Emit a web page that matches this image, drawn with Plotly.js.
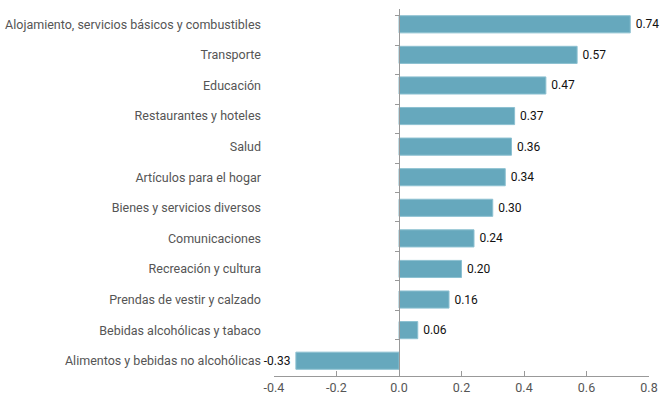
<!DOCTYPE html>
<html><head><meta charset="utf-8">
<script src="https://cdn.plot.ly/plotly-3.0.1.min.js"></script>
<style>html,body{margin:0;padding:0;background:#fff;}#chart{width:661px;height:401px;}</style>
</head><body><div id="chart"></div>
<script>
const categories = [
  "Alojamiento, servicios básicos y combustibles",
  "Transporte",
  "Educación",
  "Restaurantes y hoteles",
  "Salud",
  "Artículos para el hogar",
  "Bienes y servicios diversos",
  "Comunicaciones",
  "Recreación y cultura",
  "Prendas de vestir y calzado",
  "Bebidas alcohólicas y tabaco",
  "Alimentos y bebidas no alcohólicas"
];
const values = [0.74, 0.57, 0.47, 0.37, 0.36, 0.34, 0.30, 0.24, 0.20, 0.16, 0.06, -0.33];
const xTicks = [-0.4, -0.2, 0.0, 0.2, 0.4, 0.6, 0.8];
const xTickLabels = ["-0.4", "-0.2", "0.0", "0.2", "0.4", "0.6", "0.8"];

const FONT = "Roboto, 'DejaVu Sans', sans-serif";
const xMin = -0.4, xMax = 0.8;
const zeroPos = (0 - xMin) / (xMax - xMin);
const pad = "\u2009";

const traces = [
  {
    type: "bar", orientation: "h",
    x: values, y: categories,
    marker: {color: "#66a8bd", line: {color: "#8cc0d1", width: 1}},
    width: 0.56,
    text: values.map(v => v < 0 ? v.toFixed(2) + pad : pad + v.toFixed(2)),
    textposition: "outside",
    textfont: {family: FONT, size: 12, color: "#111"},
    cliponaxis: false,
    hoverinfo: "skip"
  },
  {
    type: "scatter", mode: "markers",
    x: values.map(() => 0), y: categories,
    yaxis: "y2",
    marker: {opacity: 0, size: 1},
    hoverinfo: "skip", showlegend: false
  }
];

const layout = {
  width: 661, height: 401,
  margin: {l: 274, r: 12, t: 9, b: 25},
  paper_bgcolor: "#fff", plot_bgcolor: "#fff",
  showlegend: false,
  bargap: 0.44,
  font: {family: FONT, size: 12.5, color: "#555"},
  xaxis: {
    range: [xMin, xMax],
    tickmode: "array", tickvals: xTicks, ticktext: xTickLabels,
    showgrid: false, zeroline: false,
    showline: true, linecolor: "#999", linewidth: 1,
    ticks: "inside", ticklen: 5, tickcolor: "#999",
    tickfont: {family: FONT, size: 12.5, color: "#555"},
    fixedrange: true
  },
  yaxis: {
    type: "category", categoryorder: "array", categoryarray: categories,
    autorange: "reversed",
    showgrid: false, zeroline: false, showline: false,
    ticks: "", ticklabelstandoff: 12,
    tickfont: {family: FONT, size: 12.5, color: "#555"},
    fixedrange: true
  },
  yaxis2: {
    type: "category", categoryorder: "array", categoryarray: categories,
    autorange: "reversed",
    overlaying: "y", anchor: "free", position: zeroPos, side: "left",
    showgrid: false, zeroline: false,
    showline: true, linecolor: "#999", linewidth: 1,
    ticks: "outside", ticklen: 4, tickcolor: "#999", tickson: "boundaries",
    showticklabels: false,
    fixedrange: true
  }
};

Plotly.newPlot("chart", traces, layout, {displayModeBar: false, staticPlot: true});
</script>
</body></html>
